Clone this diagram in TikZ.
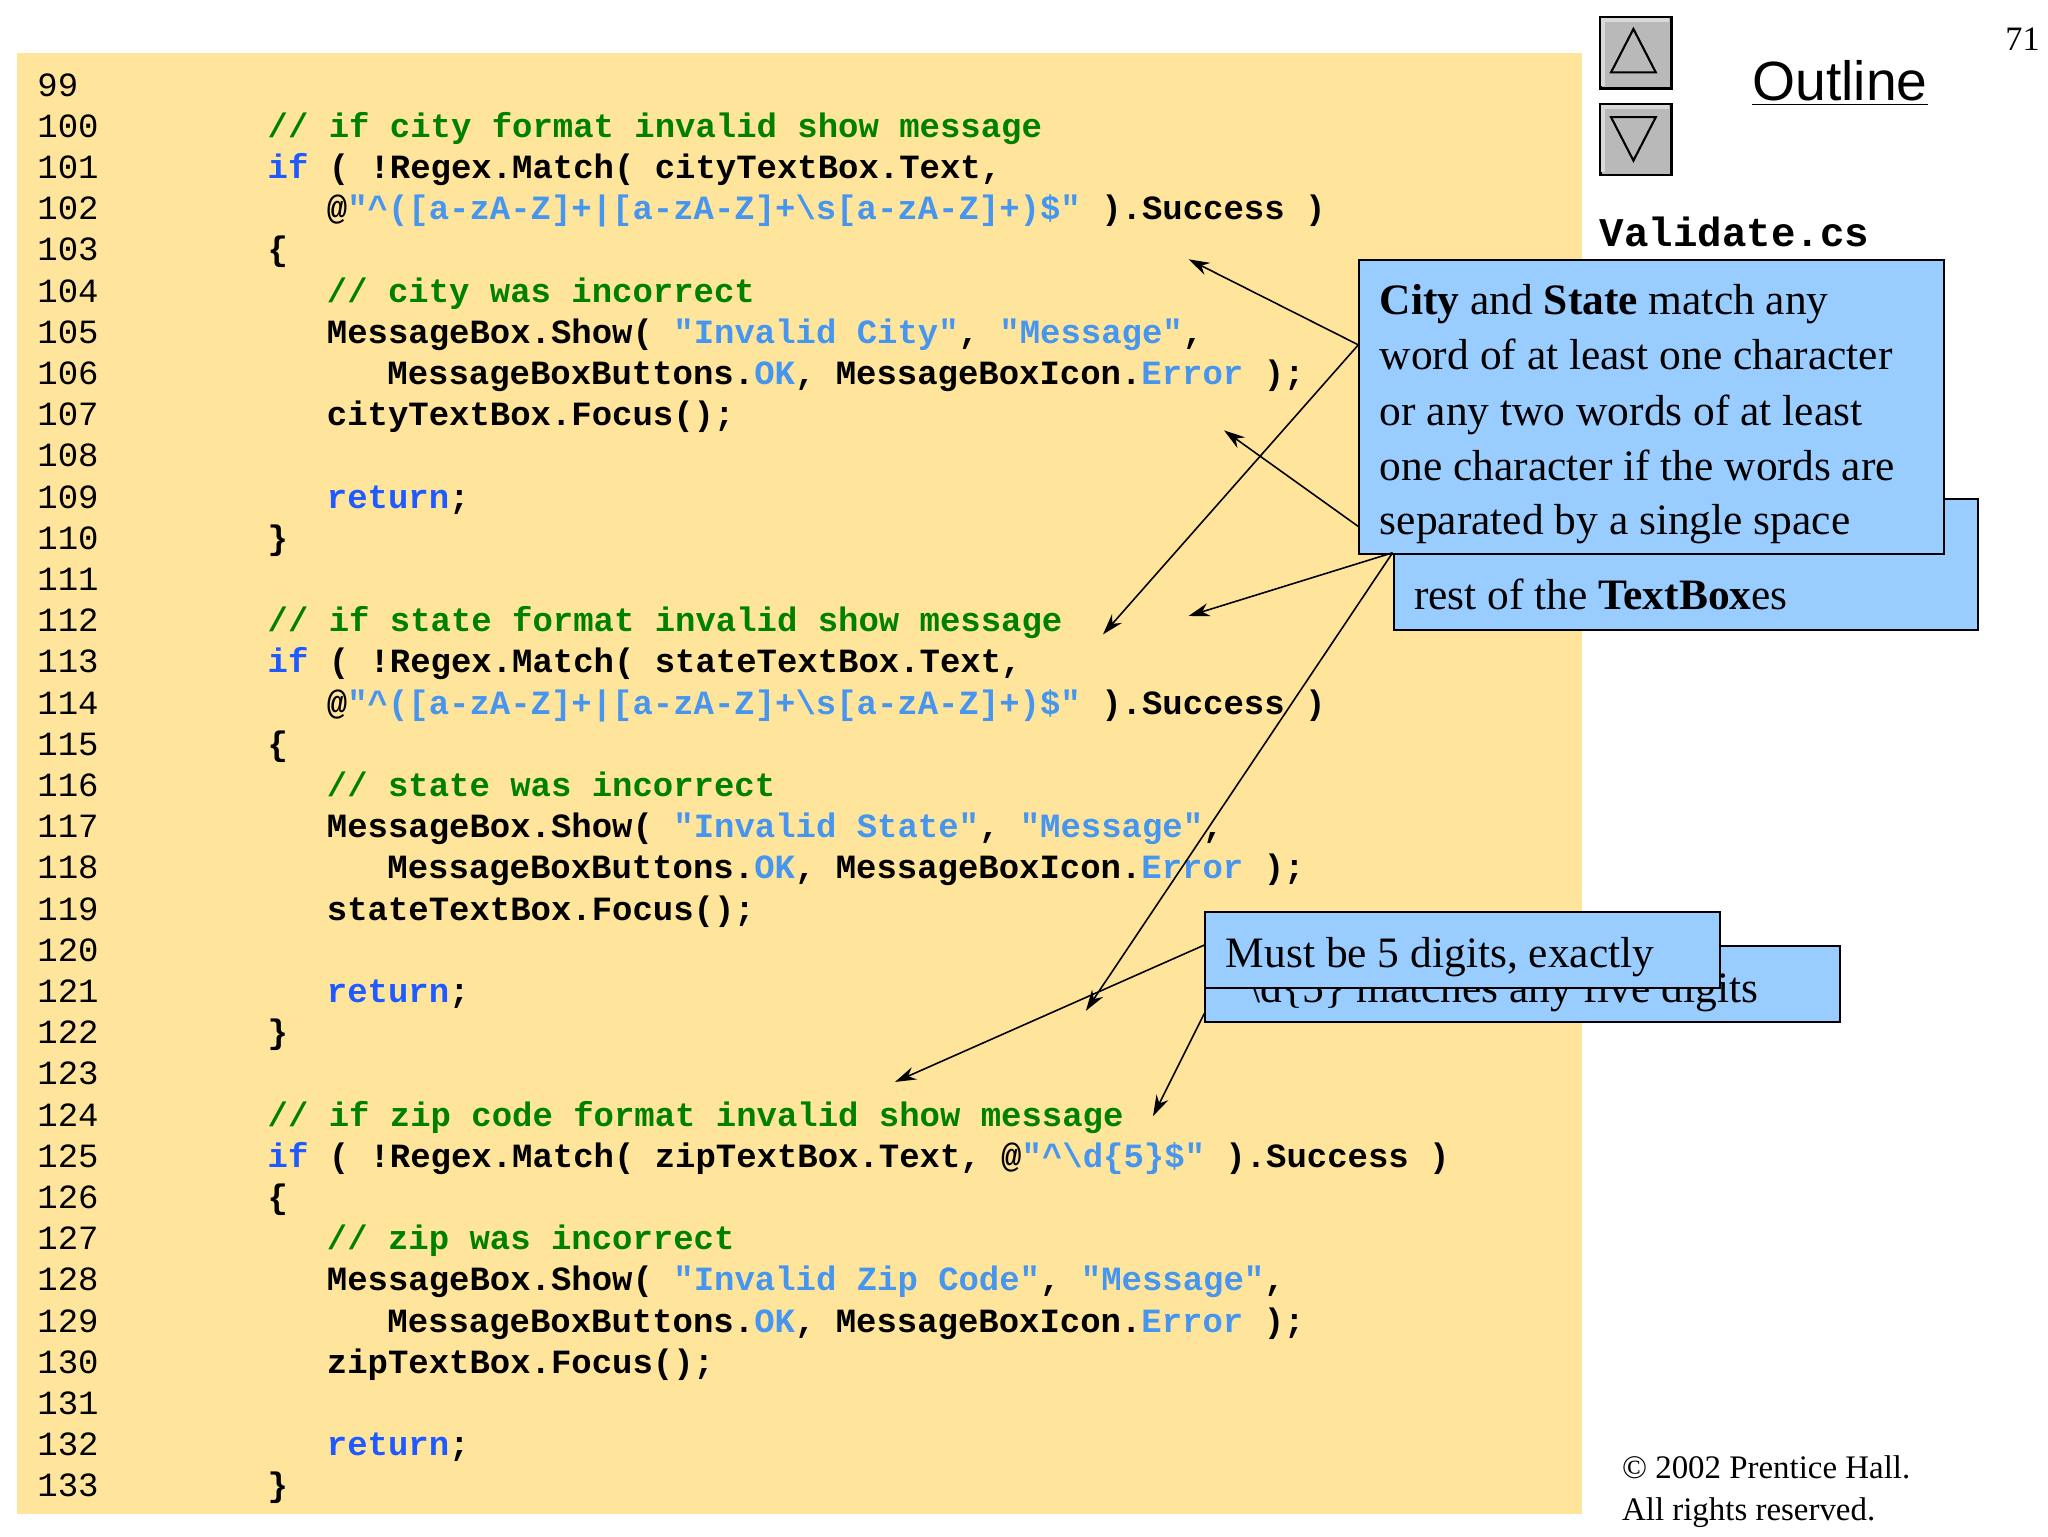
\documentclass[tikz,border=0pt]{standalone}
\usepackage{fontspec}
\setmainfont{Liberation Serif}
\setsansfont{Liberation Sans}
\setmonofont{Liberation Mono}
\usetikzlibrary{arrows.meta}
\definecolor{bgy}{RGB}{255,228,156}
\definecolor{callb}{RGB}{153,204,255}
\definecolor{cmt}{RGB}{0,128,0}
\definecolor{kw}{RGB}{30,90,255}
\definecolor{str}{RGB}{70,150,240}
\newcommand{\cm}[1]{\textcolor{cmt}{#1}}
\newcommand{\kw}[1]{\textcolor{kw}{#1}}
\newcommand{\st}[1]{\textcolor{str}{#1}}
\newcommand{\bs}{\textbackslash}
\newcommand{\ca}{\textasciicircum}
\begin{document}
\begin{tikzpicture}[x=0.5pt,y=-0.5pt,
  code/.style={anchor=base west,inner sep=0pt,font=\fontsize{12.9}{14}\ttfamily\bfseries},
  lnum/.style={anchor=base west,inner sep=0pt,font=\fontsize{12.9}{14}\ttfamily},
  callout/.style={draw=black,fill=callb,line width=0.8pt,anchor=north west,inner sep=0pt},
  ctext/.style={anchor=base west,inner sep=0pt,font=\fontsize{16.5}{21}\selectfont},
  arr/.style={-{Stealth[length=8pt,width=5pt]},line width=0.6pt}]
\useasboundingbox (0,0) rectangle (1556,1167);
\fill[white] (0,0) rectangle (1556,1167);
\fill[bgy] (13,40) rectangle (1202,1150);
% line numbers
\foreach \n [count=\i from 0] in {99,...,133}
  \node[lnum] (ln\n) at (28,{73+31.3*\i}) {\n};
\def\Y#1{{73+31.3*(#1-99)}}
\node[code] (c100) at (203,\Y{100}) {\cm{// if city format invalid show message}};
\node[code] (c101) at (203,\Y{101}) {\kw{if} ( !Regex.Match( cityTextBox.Text,};
\node[code] (c102) at (248,\Y{102}) {@\st{"\ca([a-zA-Z]+|[a-zA-Z]+\bs s[a-zA-Z]+)\$"} ).Success )};
\node[code] (c103) at (203,\Y{103}) {\{};
\node[code] (c104) at (248,\Y{104}) {\cm{// city was incorrect}};
\node[code] (c105) at (248,\Y{105}) {MessageBox.Show( \st{"Invalid City"}, \st{"Message"},};
\node[code] (c106) at (294,\Y{106}) {MessageBoxButtons.\st{OK}, MessageBoxIcon.\st{Error} );};
\node[code] (c107) at (248,\Y{107}) {cityTextBox.Focus();};
\node[code] (c109) at (248,\Y{109}) {\kw{return};};
\node[code] (c110) at (203,\Y{110}) {\}};
\node[code] (c112) at (203,\Y{112}) {\cm{// if state format invalid show message}};
\node[code] (c113) at (203,\Y{113}) {\kw{if} ( !Regex.Match( stateTextBox.Text,};
\node[code] (c114) at (248,\Y{114}) {@\st{"\ca([a-zA-Z]+|[a-zA-Z]+\bs s[a-zA-Z]+)\$"} ).Success )};
\node[code] (c115) at (203,\Y{115}) {\{};
\node[code] (c116) at (248,\Y{116}) {\cm{// state was incorrect}};
\node[code] (c117) at (248,\Y{117}) {MessageBox.Show( \st{"Invalid State"}, \st{"Message"},};
\node[code] (c118) at (294,\Y{118}) {MessageBoxButtons.\st{OK}, MessageBoxIcon.\st{Error} );};
\node[code] (c119) at (248,\Y{119}) {stateTextBox.Focus();};
\node[code] (c121) at (248,\Y{121}) {\kw{return};};
\node[code] (c122) at (203,\Y{122}) {\}};
\node[code] (c124) at (203,\Y{124}) {\cm{// if zip code format invalid show message}};
\node[code] (c125) at (203,\Y{125}) {\kw{if} ( !Regex.Match( zipTextBox.Text, @\st{"\ca\bs d\{5\}\$"} ).Success )};
\node[code] (c126) at (203,\Y{126}) {\{};
\node[code] (c127) at (248,\Y{127}) {\cm{// zip was incorrect}};
\node[code] (c128) at (248,\Y{128}) {MessageBox.Show( \st{"Invalid Zip Code"}, \st{"Message"},};
\node[code] (c129) at (294,\Y{129}) {MessageBoxButtons.\st{OK}, MessageBoxIcon.\st{Error} );};
\node[code] (c130) at (248,\Y{130}) {zipTextBox.Focus();};
\node[code] (c132) at (248,\Y{132}) {\kw{return};};
\node[code] (c133) at (203,\Y{133}) {\}};
% right side
\foreach \yy/\nm in {12/up,78/dn}{
  \node[draw=black,fill=gray!55,line width=1pt,minimum width=27pt,minimum height=27pt,anchor=north west,inner sep=0pt] (\nm) at (1215,\yy) {};
  \draw[gray!30,line width=1.5pt] ([shift={(3,-3)}]\nm.south west) -- ([shift={(3,3)}]\nm.north west) -- ([shift={(-3,3)}]\nm.north east);
}
\draw[fill=gray!55,line width=0.8pt] (1224,55) -- (1241,22) -- (1258,55) -- cycle;
\draw[fill=gray!55,line width=0.8pt] (1224,89) -- (1241,122) -- (1258,89) -- cycle;
\node[anchor=base,inner sep=0pt,font=\fontsize{21}{24}\sffamily] (outl) at (1398,76) {\underline{Outline}};
\node[anchor=base east,inner sep=0pt,font=\fontsize{13}{15}\selectfont] (pg) at (1550,38) {71};
\node[anchor=base west,inner sep=0pt,font=\fontsize{15.5}{17}\ttfamily\bfseries] (fname) at (1215,187) {Validate.cs};
\node[anchor=base west,inner sep=0pt,font=\fontsize{12.5}{16}\selectfont] (cp1) at (1232,1123) {\textcopyright{} 2002 Prentice Hall.};
\node[anchor=base west,inner sep=0pt,font=\fontsize{12.5}{16}\selectfont] (cp2) at (1232,1155) {All rights reserved.};
% callouts
\node[callout,minimum width=222pt,minimum height=50pt] (boxA) at (1058,378) {};
\node[ctext] (tA) at (1074,463) {rest of the \textbf{TextBox}es};
\node[callout,minimum width=222pt,minimum height=111.5pt] (boxB) at (1032,197) {};
\node[ctext] (tB1) at (1048,239) {\textbf{City} and \textbf{State} match any};
\node[ctext] (tB2) at (1048,281) {word of at least one character};
\node[ctext] (tB3) at (1048,323) {or any two words of at least};
\node[ctext] (tB4) at (1048,365) {one character if the words are};
\node[ctext] (tB5) at (1048,406) {separated by a single space};
\node[callout,minimum width=241pt,minimum height=29pt] (boxC) at (915,718) {};
\node[ctext] (tC) at (948,762) {\bs d\{5\} matches any five digits};
\node[callout,minimum width=195.5pt,minimum height=29pt] (boxD) at (915,692) {};
\node[ctext] (tD) at (931,735) {Must be 5 digits, exactly};
% arrows
\coordinate (bB1) at (1032,262); \coordinate (bB2) at (1032,400);
\coordinate (bA1) at (1058,420);
\coordinate (bD) at (915,718); \coordinate (bC) at (915,770);
\coordinate (e1) at (903,197); \coordinate (e2) at (838,482);
\coordinate (e3) at (930,327); \coordinate (e4) at (903,468);
\coordinate (e5) at (825,768); \coordinate (e6) at (680,822);
\coordinate (e7) at (876,848);
\draw[arr] (bB1) -- (e1);
\draw[arr] (bB1) -- (e2);
\draw[arr] (bB2) -- (e3);
\draw[arr] (bA1) -- (e4);
\draw[arr] (bA1) -- (e5);
\draw[arr] (bD) -- (e6);
\draw[arr] (bC) -- (e7);
\end{tikzpicture}
\end{document}
